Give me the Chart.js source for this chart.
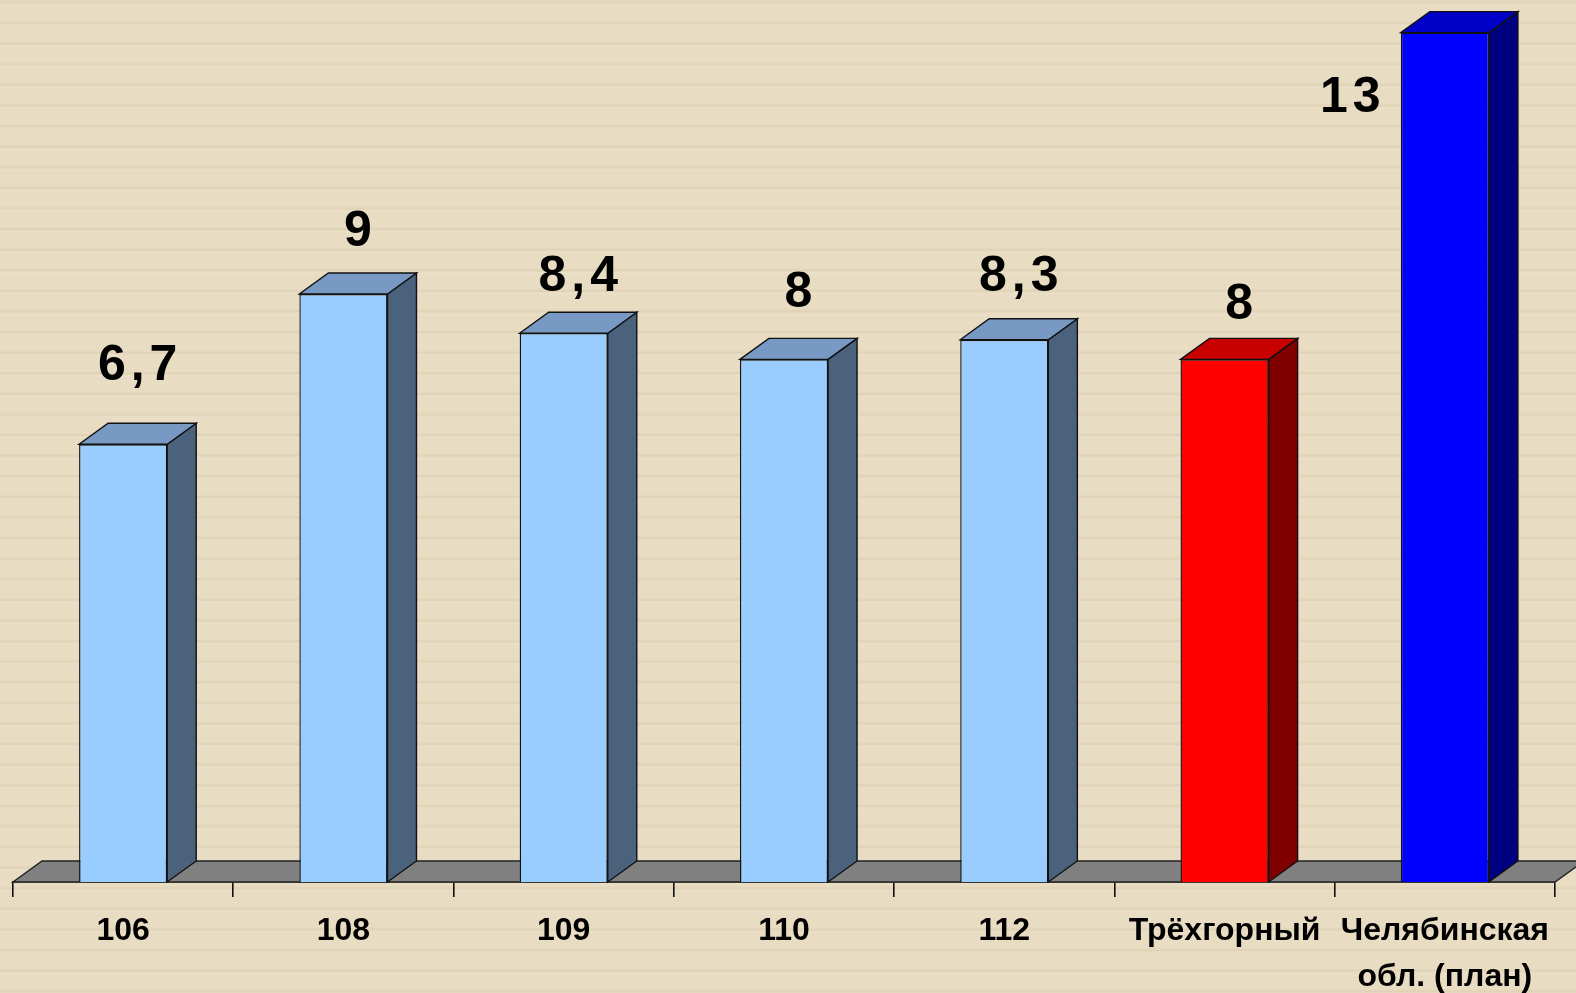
<!DOCTYPE html>
<html>
<head>
<meta charset="utf-8">
<script src="https://cdn.jsdelivr.net/npm/chart.js@4.4.1/dist/chart.umd.min.js"></script>
<style>
  html, body { margin: 0; padding: 0; background: #e8dcc3; }
  #wrap { width: 1576px; height: 993px; position: relative; }
</style>
</head>
<body>
<div id="wrap"><canvas id="chart"></canvas></div>
<script>
  // data
  var categories = ['106', '108', '109', '110', '112', 'Трёхгорный', ['Челябинская', 'обл. (план)']];
  var values = [6.7, 9, 8.4, 8, 8.3, 8, 13];
  var valueLabels = ['6,7', '9', '8,4', '8', '8,3', '8', '13'];

  // colours of the three faces: front, top, side
  var frontColors = ['#99ccff', '#99ccff', '#99ccff', '#99ccff', '#99ccff', '#ff0000', '#0000ff'];
  var topColors = ['#7799c4', '#7799c4', '#7799c4', '#7799c4', '#7799c4', '#c80000', '#0000c8'];
  var sideColors = ['#4a627c', '#4a627c', '#4a627c', '#4a627c', '#4a627c', '#800000', '#000080'];

  // label baseline shift from the bar's front top edge (px)
  var labelShift = [-64, -48, -42, -52, -49, -40, 0];

  var depthX = 29, depthY = 21;

  var stripes = {
    id: 'stripes',
    beforeDraw: function (chart) {
      var c = chart.ctx;
      c.save();
      c.fillStyle = '#e8dcc3';
      c.fillRect(0, 0, chart.width, chart.height);
      for (var y = 0; y < chart.height; y += 20.6) {
        var g = c.createLinearGradient(0, y, 0, y + 7);
        g.addColorStop(0, 'rgba(216,202,170,0)');
        g.addColorStop(0.4, 'rgba(216,202,170,0.55)');
        g.addColorStop(0.7, 'rgba(238,228,208,0.35)');
        g.addColorStop(1, 'rgba(238,228,208,0)');
        c.fillStyle = g;
        c.fillRect(0, y, chart.width, 7);
      }
      c.restore();
    }
  };

  var floor = {
    id: 'floor',
    beforeDatasetsDraw: function (chart) {
      var c = chart.ctx, a = chart.chartArea;
      var base = chart.scales.y.getPixelForValue(0);
      c.save();
      c.beginPath();
      c.moveTo(a.left, base);
      c.lineTo(a.right, base);
      c.lineTo(a.right + depthX, base - depthY);
      c.lineTo(a.left + depthX, base - depthY);
      c.closePath();
      c.fillStyle = '#808080';
      c.fill();
      c.strokeStyle = '#222';
      c.lineWidth = 1.4;
      c.stroke();
      c.restore();
    }
  };

  var faces = {
    id: 'faces',
    afterDatasetsDraw: function (chart) {
      var c = chart.ctx;
      var meta = chart.getDatasetMeta(0);
      c.save();
      c.lineWidth = 1.4;
      c.strokeStyle = '#111';
      meta.data.forEach(function (bar, i) {
        var p = bar.getProps(['x', 'y', 'base', 'width'], true);
        var l = p.x - p.width / 2, r = p.x + p.width / 2;
        // side
        c.beginPath();
        c.moveTo(r, p.y);
        c.lineTo(r + depthX, p.y - depthY);
        c.lineTo(r + depthX, p.base - depthY);
        c.lineTo(r, p.base);
        c.closePath();
        c.fillStyle = sideColors[i];
        c.fill();
        c.stroke();
        // top
        c.beginPath();
        c.moveTo(l, p.y);
        c.lineTo(r, p.y);
        c.lineTo(r + depthX, p.y - depthY);
        c.lineTo(l + depthX, p.y - depthY);
        c.closePath();
        c.fillStyle = topColors[i];
        c.fill();
        c.stroke();
        // value label
        c.font = 'bold 50px "Liberation Sans", Arial, sans-serif';
        c.letterSpacing = '5px';
        c.fillStyle = '#000';
        c.textAlign = 'center';
        c.textBaseline = 'alphabetic';
        var lx = p.x + depthX / 2 + 2.5;
        var ly = p.y + labelShift[i];
        if (ly - 40 < chart.chartArea.top) {
          // no room above: put it to the left of the bar
          lx = l - 48;
          ly = p.y + 79;
        }
        c.fillText(valueLabels[i], lx, ly);
      });
      c.restore();
    }
  };

  var ctx = document.getElementById('chart').getContext('2d');
  var chart = new Chart(ctx, {
    type: 'bar',
    data: {
      labels: categories,
      datasets: [{
        data: values,
        backgroundColor: frontColors,
        borderColor: '#111',
        borderWidth: 1.4,
        categoryPercentage: 1,
        barPercentage: 0.4
      }]
    },
    options: {
      responsive: true,
      maintainAspectRatio: false,
      animation: false,
      layout: { padding: { left: 13, right: 21, top: 0, bottom: 0 } },
      plugins: {
        legend: { display: false },
        tooltip: { enabled: false }
      },
      scales: {
        x: {
          grid: {
            offset: true,
            drawOnChartArea: false,
            tickLength: 15,
            color: '#111',
            lineWidth: 1.6
          },
          border: { display: true, color: '#111', width: 1.4 },
          ticks: {
            color: '#000',
            autoSkip: false,
            maxRotation: 0,
            padding: 11,
            font: { family: '"Liberation Sans", Arial, sans-serif', size: 32, weight: 'bold', lineHeight: 1.45 }
          },
          afterFit: function (scale) { scale.height = 111; }
        },
        y: {
          display: false,
          min: 0,
          max: 13.5
        }
      }
    },
    plugins: [stripes, floor, faces]
  });
</script>
</body>
</html>
